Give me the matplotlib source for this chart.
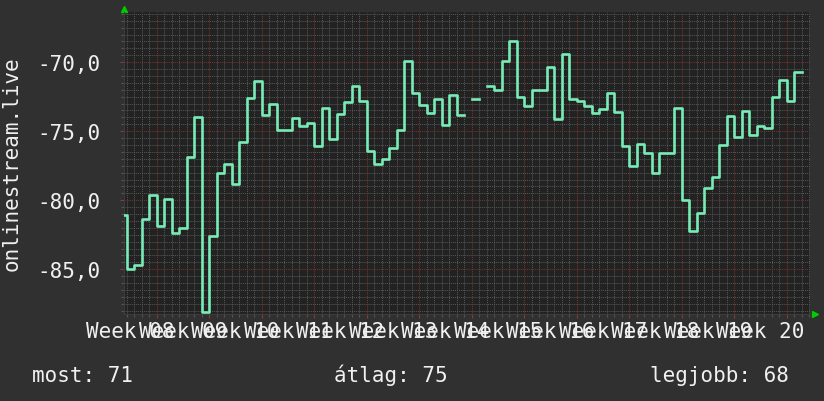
import numpy as np
import matplotlib.pyplot as plt
from matplotlib.transforms import blended_transform_factory

# daily values, day 0 = start of Week 08
days = np.arange(2, 93)
values = [
    -81.1, -85.0, -84.7, -81.35, -79.65, -81.85, -79.9, -82.35, -82.0, -76.85,   # 2-11
    -74.0, -88.1, -82.6, -78.05, -77.4, -78.85, -75.75, -72.6, -71.35, -73.8,    # 12-21
    -73.0, -74.9, -74.9, -74.05, -74.6, -74.4, -76.1, -73.35, -75.55, -73.75,    # 22-31
    -72.9, -71.7, -72.85, -76.45, -77.4, -77.0, -76.25, -74.9, -69.9, -72.2,     # 32-41
    -73.1, -73.65, -72.7, -74.55, -72.35, -73.8, np.nan, -72.7, np.nan, -71.7,   # 42-51
    -72.05, -69.9, -68.5, -72.5, -73.15, -72.05, -72.0, -70.35, -74.15, -69.4,   # 52-61
    -72.65, -72.85, -73.15, -73.7, -73.4, -72.2, -73.6, -76.1, -77.5, -75.9,     # 62-71
    -76.55, -78.0, -76.6, -76.6, -73.3, -80.0, -82.25, -80.9, -79.1, -78.35,     # 72-81
    -76.0, -73.9, -75.45, -73.55, -75.25, -74.6, -74.8, -72.5, -71.3, -72.85,    # 82-91
    -70.7,                                                                        # 92
]
week_labels = ['Week %02d' % w for w in range(8, 21)]
y_ticks = [-85, -80, -75, -70]
legend = [('most: 71', 32), ('átlag: 75', 334), ('legjobb: 68', 650)]

W, H = 824, 402
BG = '#303030'
PLOT_BG = '#222222'
TXT = '#f0f0f0'
LINE = '#78ecb6'
FONT = 'DejaVu Sans Mono'

fig = plt.figure(figsize=(W / 100, H / 100), dpi=100, facecolor=BG)
ax = fig.add_axes([124 / W, (H - 315) / H, (810 - 124) / W, (315 - 13) / H])
ax.set_facecolor(PLOT_BG)

xlo, xhi = 2.64, 94.1
ylo, yhi = -88.24, -66.37
ax.set_xlim(xlo, xhi)
ax.set_ylim(ylo, yhi)

# grid: minor (gray) and major (red)
minor_kw = dict(color='#575757', lw=0.7, ls=(0, (1, 1)), zorder=1)
major_kw = dict(color='#7a3434', lw=0.7, ls=(0, (1, 1)), zorder=1.5)
for d in range(3, 95):
    ax.axvline(d, **(major_kw if d % 7 == 0 else minor_kw))
for v in np.arange(-88.0, -66.0, 0.5):
    ax.axhline(v, **(major_kw if v % 5 == 0 else minor_kw))

# data as step line (each value covers its day)
xs = np.append(days, days[-1] + 1)
ys = np.append(values, values[-1])
ax.step(xs, ys, where='post', color=LINE, lw=1.9, zorder=3)

for s in ax.spines.values():
    s.set_visible(False)
ax.spines['bottom'].set_visible(True)
ax.spines['bottom'].set_color('#3c3c3c')
ax.spines['left'].set_visible(True)
ax.spines['left'].set_color('#3c3c3c')

ax.set_xticks([7 * k for k in range(1, 14)])
ax.set_xticks(range(3, 95), minor=True)
ax.set_xticklabels([])
ax.tick_params(axis='x', which='major', length=3, color='#8a3a3a', width=0.8)
ax.tick_params(axis='x', which='minor', length=2, color='#555555', width=0.8)

ax.set_yticks(y_ticks)
ax.set_yticklabels(['%d,0' % t for t in y_ticks], fontfamily=FONT, fontsize=15, color=TXT)
ax.set_yticks(np.arange(-88.0, -66.0, 0.5), minor=True)
ax.tick_params(axis='y', which='major', length=3, color='#8a3a3a', width=0.8, pad=14)
ax.tick_params(axis='y', which='minor', length=2, color='#555555', width=0.8)

# week labels, centered on each week (they overlap, as in the source)
tr = blended_transform_factory(ax.transData, fig.transFigure)
for k, lab in enumerate(week_labels):
    ax.text(3.5 + 7 * k, (H - 338) / H, lab, transform=tr, ha='center', va='baseline',
            fontfamily=FONT, fontsize=15, color=TXT, clip_on=False)

fig.text(12 / W, (H - 164) / H, 'onlinestream.live', rotation=90, ha='center', va='center',
         fontfamily=FONT, fontsize=15, color=TXT)

for txt, x in legend:
    fig.text(x / W, (H - 382) / H, txt, ha='left', va='baseline',
             fontfamily=FONT, fontsize=15, color=TXT)

# axis arrows
ax.plot([0], [1.01], marker='^', ms=5, color='#00cc00', transform=ax.transAxes, clip_on=False)
ax.plot([1.008], [0], marker='>', ms=5, color='#00cc00', transform=ax.transAxes, clip_on=False)

fig.savefig('out.png', dpi=100, facecolor=BG)
